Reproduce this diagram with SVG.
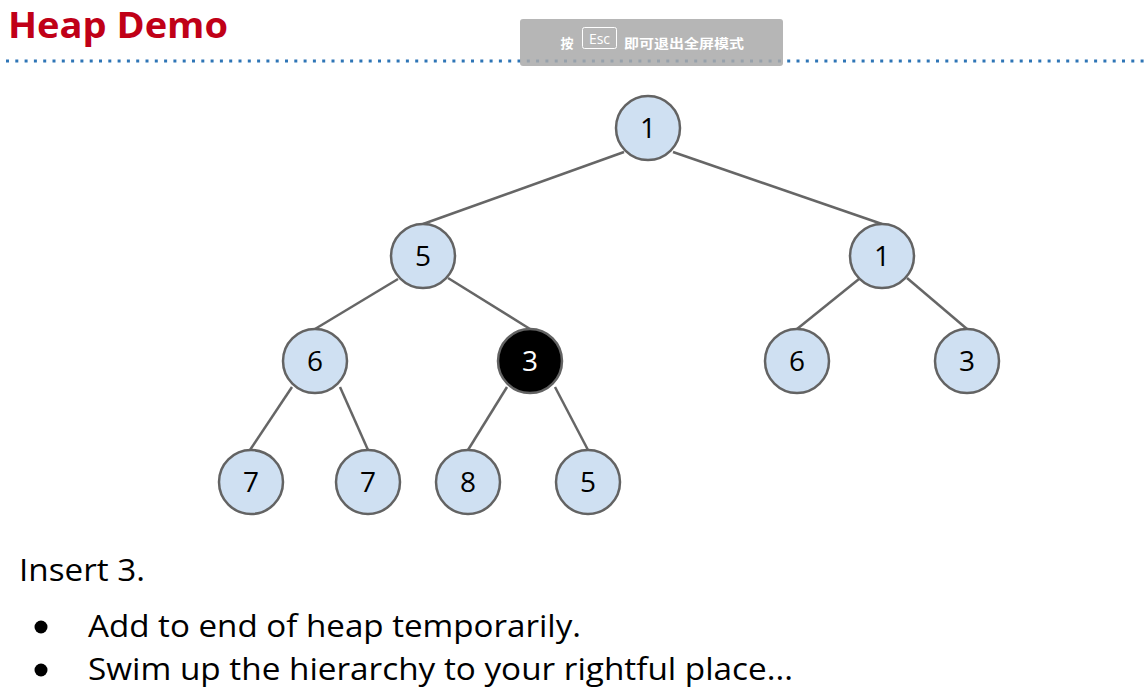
<svg xmlns="http://www.w3.org/2000/svg" width="1144" height="689" viewBox="0 0 1144 689">
<style>
.e{stroke:#666;stroke-width:2.5;fill:none}
.n circle{fill:#cfe0f2;stroke:#636363;stroke-width:2.5}
.n text{font-family:"Open Sans","Liberation Sans",sans-serif;font-size:28px;fill:#000;text-anchor:middle}
.hl circle{fill:#000}
.hl text{fill:#fff}
.body{font-family:"Open Sans","Liberation Sans",sans-serif;font-size:31px;fill:#000}
</style>
<rect width="1144" height="689" fill="#fff"/>
<text x="8" y="38" font-family="Open Sans, Liberation Sans, sans-serif" font-weight="bold" font-size="35" fill="#c00017" textLength="220" lengthAdjust="spacingAndGlyphs">Heap Demo</text>
<line x1="6" y1="61" x2="1144" y2="61" stroke="#2e75b6" stroke-width="3" stroke-dasharray="3 6.3"/>
<g id="edges">
<line class="e" x1="624" y1="152" x2="423" y2="224"/>
<line class="e" x1="673" y1="152" x2="882" y2="224"/>
<line class="e" x1="398" y1="279" x2="315" y2="329"/>
<line class="e" x1="448" y1="278" x2="530" y2="329"/>
<line class="e" x1="859" y1="279" x2="797" y2="329"/>
<line class="e" x1="907" y1="278" x2="967" y2="329"/>
<line class="e" x1="292" y1="387" x2="250" y2="450"/>
<line class="e" x1="340" y1="387" x2="368" y2="450"/>
<line class="e" x1="507" y1="387" x2="468" y2="450"/>
<line class="e" x1="555" y1="387" x2="588" y2="450"/>
</g>
<g id="n0" class="n"><circle cx="648" cy="128" r="32"/><text x="648" y="138">1</text></g>
<g id="n1" class="n"><circle cx="423" cy="256" r="32"/><text x="423" y="266">5</text></g>
<g id="n2" class="n"><circle cx="882" cy="256" r="32"/><text x="882" y="266">1</text></g>
<g id="n3" class="n"><circle cx="315" cy="361" r="32"/><text x="315" y="371">6</text></g>
<g id="n4" class="n hl"><circle cx="530" cy="361" r="32"/><text x="530" y="371">3</text></g>
<g id="n5" class="n"><circle cx="797" cy="361" r="32"/><text x="797" y="371">6</text></g>
<g id="n6" class="n"><circle cx="967" cy="361" r="32"/><text x="967" y="371">3</text></g>
<g id="n7" class="n"><circle cx="251" cy="482" r="32"/><text x="251" y="492">7</text></g>
<g id="n8" class="n"><circle cx="368" cy="482" r="32"/><text x="368" y="492">7</text></g>
<g id="n9" class="n"><circle cx="468" cy="482" r="32"/><text x="468" y="492">8</text></g>
<g id="n10" class="n"><circle cx="588" cy="482" r="32"/><text x="588" y="492">5</text></g>
<text class="body" x="19" y="581" textLength="126" lengthAdjust="spacingAndGlyphs">Insert 3.</text>
<circle cx="41" cy="627" r="6.5" fill="#000"/>
<text class="body" x="88" y="637" textLength="493" lengthAdjust="spacingAndGlyphs">Add to end of heap temporarily.</text>
<circle cx="41" cy="670" r="6.5" fill="#000"/>
<text class="body" x="88" y="680" textLength="705" lengthAdjust="spacingAndGlyphs">Swim up the hierarchy to your rightful place...</text>
<g id="overlay">
<rect x="520" y="19" width="263" height="47" rx="3" fill="#a9a9a9" fill-opacity="0.85"/>
<text x="567" y="48" font-family="Noto Sans CJK SC, sans-serif" font-size="13" font-weight="bold" fill="#fff" text-anchor="middle">按</text>
<rect x="582.5" y="27.5" width="34" height="21" rx="2" fill="none" stroke="#fff" stroke-width="1"/>
<text x="599.5" y="44" font-family="Open Sans, Liberation Sans, sans-serif" font-size="14" fill="#fff" text-anchor="middle">Esc</text>
<text x="624" y="48" font-family="Noto Sans CJK SC, sans-serif" font-size="13" font-weight="bold" fill="#fff" textLength="120" lengthAdjust="spacingAndGlyphs">即可退出全屏模式</text>
</g>
</svg>
